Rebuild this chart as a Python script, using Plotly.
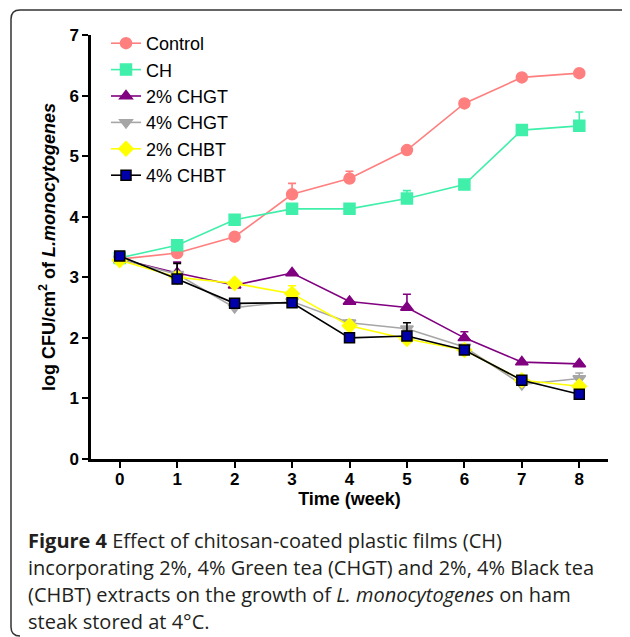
import plotly.graph_objects as go

weeks = [0, 1, 2, 3, 4, 5, 6, 7, 8]
tick_vals_y = [0, 1, 2, 3, 4, 5, 6, 7]

series_names = ["Control", "CH", "2% CHGT", "4% CHGT", "2% CHBT", "4% CHBT"]

control = [3.30, 3.40, 3.67, 4.37, 4.63, 5.10, 5.87, 6.30, 6.37]
control_err = [0, 0, 0.05, 0.18, 0.12, 0, 0, 0.04, 0]

ch = [3.32, 3.53, 3.95, 4.13, 4.13, 4.30, 4.53, 5.43, 5.50]
ch_err = [0, 0, 0.04, 0, 0, 0.13, 0, 0.06, 0.23]

chgt2 = [3.30, 3.07, 2.87, 3.07, 2.60, 2.50, 2.00, 1.60, 1.57]
chgt2_err = [0, 0.18, 0, 0, 0, 0.22, 0.10, 0, 0]

chgt4 = [3.30, 3.05, 2.50, 2.60, 2.25, 2.15, 1.85, 1.23, 1.33]
chgt4_err = [0, 0, 0, 0, 0.05, 0, 0, 0, 0.09]

chbt2 = [3.28, 3.00, 2.90, 2.73, 2.20, 1.98, 1.80, 1.30, 1.20]
chbt2_err = [0, 0, 0, 0.13, 0, 0, 0, 0, 0]

chbt4 = [3.35, 2.97, 2.57, 2.58, 2.00, 2.03, 1.80, 1.30, 1.07]
chbt4_err = [0, 0.26, 0, 0, 0.07, 0.22, 0, 0, 0.05]

values = [control, ch, chgt2, chgt4, chbt2, chbt4]
errors = [control_err, ch_err, chgt2_err, chgt4_err, chbt2_err, chbt4_err]
line_colors = ["#FF7F7F", "#40EFAA", "#800080", "#A6A6A6", "#FFFF00", "#000000"]
marker_colors = ["#FF7F7F", "#40EFAA", "#800080", "#A6A6A6", "#FFFF00", "#0000AA"]
marker_lines = ["#FF7F7F", "#40EFAA", "#800080", "#A6A6A6", "#FFFF00", "#000000"]
symbols = ["circle", "square", "triangle-up", "triangle-down", "diamond", "square"]
msizes = [11, 11, 11, 11, 11, 10]

# page has an 8px body margin: work in window pixels, then shift
OFF = 8
L, R, T, B = 91 - OFF, 608 - OFF, 35 - OFF, 459 - OFF
W, H = 630 - OFF, 637 - OFF


def px(xp):
    return (xp - OFF - L) / (R - L)


def py(yp):
    return (B - (yp - OFF)) / (B - T)


fig = go.Figure()
for i, name in enumerate(series_names):
    fig.add_trace(go.Scatter(
        x=weeks, y=values[i], name=name, mode="lines+markers",
        legendgroup=name,
        line=dict(color=line_colors[i], width=1.6),
        marker=dict(symbol=symbols[i], size=msizes[i], color=marker_colors[i],
                    line=dict(color=marker_lines[i], width=1.5)),
        error_y=dict(type="data", array=errors[i], arrayminus=[0] * len(weeks),
                     symmetric=False, color=line_colors[i], thickness=1.6, width=4),
    ))

caption_font = "Open Sans"
cap_lines = [
    (540, "<b>Figure 4</b> Effect of chitosan-coated plastic films (CH)"),
    (567, "incorporating 2%, 4% Green tea (CHGT) and 2%, 4% Black tea"),
    (594, "(CHBT) extracts on the growth of <i>L. monocytogenes</i> on ham"),
    (621, "steak stored at 4°C."),
]
annotations = []
for yy, txt in cap_lines:
    annotations.append(dict(
        text=txt, xref="paper", yref="paper", x=px(26), y=py(yy),
        xanchor="left", yanchor="middle", showarrow=False,
        font=dict(family=caption_font, size=20, color="#231F20"),
    ))

# frame path (rounded rectangle, cut at right/bottom)
r = 9
frame = (f"M {px(640)},{py(10)} L {px(11 + r)},{py(10)} "
         f"Q {px(11)},{py(10)} {px(11)},{py(10 + r)} "
         f"L {px(11)},{py(636 - r)} "
         f"Q {px(11)},{py(636)} {px(11 + r)},{py(636)}")

tick_font = dict(size=17, family="Liberation Sans, Arial", weight="bold", color="black")

fig.update_layout(
    width=W, height=H,
    margin=dict(l=L, r=W - R, t=T, b=H - B, pad=0),
    paper_bgcolor="white", plot_bgcolor="white",
    font=dict(family="Liberation Sans, Arial", color="black"),
    showlegend=True,
    legend=dict(x=px(106), y=py(25), xanchor="left", yanchor="top",
                bgcolor="rgba(0,0,0,0)", borderwidth=0,
                font=dict(size=18, family="Liberation Sans, Arial"),
                tracegroupgap=0, itemwidth=30),
    xaxis=dict(range=[-0.5, 8.5], tickvals=weeks, showgrid=False, zeroline=False,
               showline=True, linecolor="black", linewidth=2.5,
               ticks="outside", ticklen=6, tickwidth=2, tickcolor="black",
               tickfont=tick_font, ticklabelstandoff=-3,
               title=dict(text="<b>Time (week)</b>", font=dict(size=18), standoff=5)),
    yaxis=dict(range=[0, 7], tickvals=tick_vals_y, showgrid=False, zeroline=False,
               showline=True, linecolor="black", linewidth=2.5,
               ticks="outside", ticklen=6, tickwidth=2, tickcolor="black",
               tickfont=tick_font,
               title=dict(text="<b>log CFU/cm<sup>2</sup> of <i>L.monocytogenes</i></b>",
                          font=dict(size=18), standoff=10)),
    annotations=annotations,
    shapes=[dict(type="path", path=frame, xref="paper", yref="paper",
                 line=dict(color="#333333", width=1.5), layer="below")],
)

fig.write_html("out.html")
